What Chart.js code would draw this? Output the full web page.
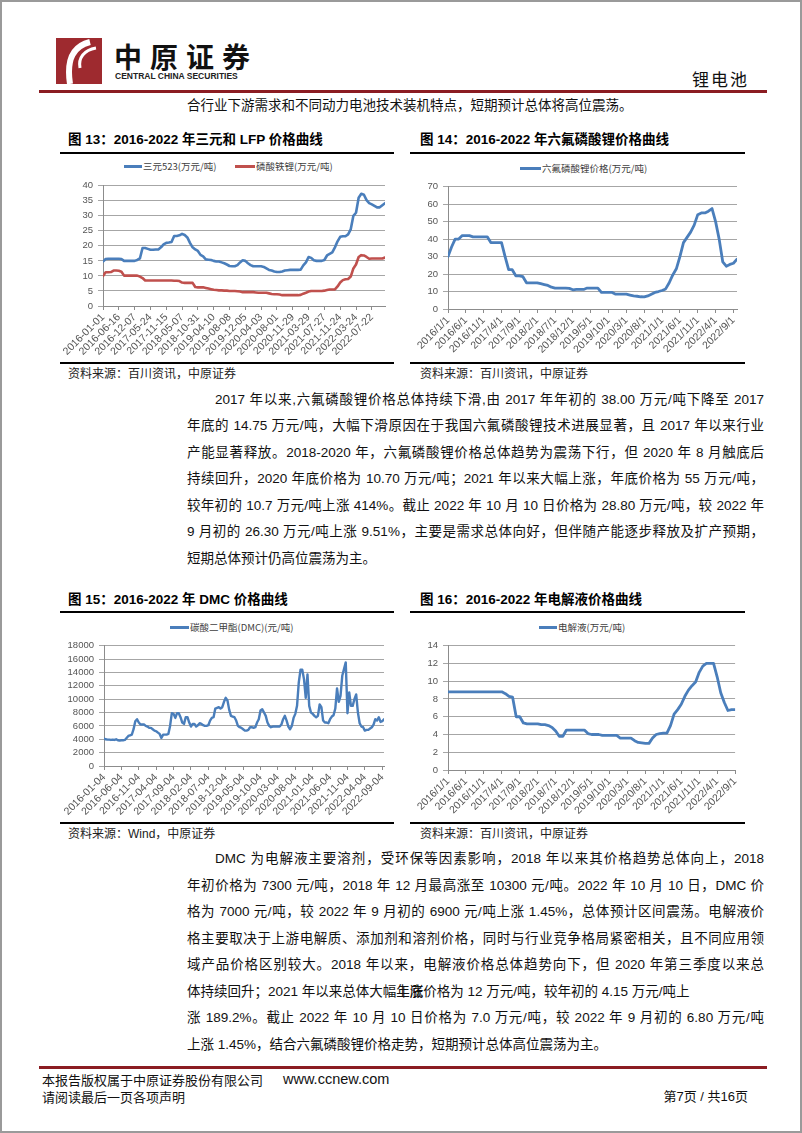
<!DOCTYPE html>
<html><head><meta charset="utf-8">
<script src="https://cdn.jsdelivr.net/npm/chart.js@4.4.0/dist/chart.umd.min.js"></script>
<style>
html,body{margin:0;padding:0;background:#fff;}
#page{position:relative;width:802px;height:1133px;overflow:hidden;box-sizing:border-box;border:2px solid #9a9a9a;font-family:"Liberation Sans","Noto Sans CJK SC",sans-serif;color:#111;}
.abs{position:absolute;white-space:nowrap;}
.ln{position:absolute;left:185px;width:577px;font-size:13.5px;line-height:20px;height:20px;text-align:justify;text-align-last:justify;white-space:normal;overflow:visible;}
.ln.ind{left:213px;width:549px;}
.ln.last{text-align:left;text-align-last:left;white-space:nowrap;}
.title{position:absolute;font-weight:bold;font-size:13.5px;line-height:16px;white-space:nowrap;color:#000;}
.rule{position:absolute;height:2px;background:#000;}
.src{position:absolute;font-size:12px;line-height:14px;white-space:nowrap;color:#222;}
.leg{position:absolute;font-family:"Noto Sans CJK SC","Liberation Sans",sans-serif;font-size:9.5px;line-height:12px;white-space:nowrap;color:#404040;}
.sw{display:inline-block;height:2.5px;vertical-align:middle;margin-right:1px;position:relative;top:-1px;}
canvas{position:absolute;}
</style></head>
<body><div id="page">

<!-- header -->
<svg class="abs" style="left:54px;top:36px" width="46" height="46" viewBox="0 0 46 46">
  <rect x="0" y="0" width="46" height="46" fill="#9e2a2f"/>
  <path d="M34 4 C18 8 10 20 14 46" stroke="#fff" stroke-width="6" fill="none"/>
  <path d="M40 10 C28 12 22 20 24 30" stroke="#fff" stroke-width="3" fill="none"/>
</svg>
<div class="abs" style="left:112px;top:36px;font-family:'Noto Sans CJK SC';font-weight:bold;font-size:28px;line-height:36px;letter-spacing:8px;color:#111;">中原证券</div>
<div class="abs" style="left:113px;top:69px;font-family:'Liberation Sans';font-weight:bold;font-size:8.5px;line-height:10px;color:#222;">CENTRAL CHINA SECURITIES</div>
<div class="abs" style="left:690px;top:66px;font-family:'Noto Sans CJK SC';font-size:17px;line-height:22px;letter-spacing:2px;color:#111;">锂电池</div>
<div class="abs" style="left:37px;top:88px;width:728px;height:2.5px;background:#8b1c22;"></div>
<div class="ln last" style="top:94px;">合行业下游需求和不同动力电池技术装机特点，短期预计总体将高位震荡。</div>

<!-- chart 13 -->
<div class="title" style="left:66px;top:130px;">图 13：2016-2022 年三元和 LFP 价格曲线</div>
<div class="rule" style="left:58px;top:150px;width:334px;"></div>
<div class="leg" style="left:122px;top:158px;"><span class="sw" style="width:18px;background:#4a7ebb"></span>三元523(万元/吨)</div>
<div class="leg" style="left:233px;top:158px;"><span class="sw" style="width:20px;background:#c0504d"></span>磷酸铁锂(万元/吨)</div>
<canvas id="c13" width="335" height="185" style="left:57px;top:173px;"></canvas>
<div class="rule" style="left:58px;top:360px;width:334px;"></div>
<div class="src" style="left:66px;top:365px;">资料来源：百川资讯，中原证券</div>

<!-- chart 14 -->
<div class="title" style="left:418px;top:130px;">图 14：2016-2022 年六氟磷酸锂价格曲线</div>
<div class="rule" style="left:408px;top:150px;width:335px;"></div>
<div class="leg" style="left:518px;top:160px;"><span class="sw" style="width:21px;background:#4a7ebb"></span>六氟磷酸锂价格(万元/吨)</div>
<canvas id="c14" width="335" height="184" style="left:408px;top:174px;"></canvas>
<div class="rule" style="left:408px;top:360px;width:335px;"></div>
<div class="src" style="left:418px;top:365px;">资料来源：百川资讯，中原证券</div>

<!-- paragraph 1 -->
<div class="ln ind" style="top:388px;">2017 年以来,六氟磷酸锂价格总体持续下滑,由 2017 年年初的 38.00 万元/吨下降至 2017</div>
<div class="ln" style="top:414px;">年底的 14.75 万元/吨，大幅下滑原因在于我国六氟磷酸锂技术进展显著，且 2017 年以来行业</div>
<div class="ln" style="top:441px;">产能显著释放。2018-2020 年，六氟磷酸锂价格总体趋势为震荡下行，但 2020 年 8 月触底后</div>
<div class="ln" style="top:467px;">持续回升，2020 年底价格为 10.70 万元/吨；2021 年以来大幅上涨，年底价格为 55 万元/吨，</div>
<div class="ln" style="top:494px;">较年初的 10.7 万元/吨上涨 414%。截止 2022 年 10 月 10 日价格为 28.80 万元/吨，较 2022 年</div>
<div class="ln" style="top:520px;">9 月初的 26.30 万元/吨上涨 9.51%，主要是需求总体向好，但伴随产能逐步释放及扩产预期，</div>
<div class="ln last" style="top:547px;">短期总体预计仍高位震荡为主。</div>

<!-- chart 15 -->
<div class="title" style="left:66px;top:590px;">图 15：2016-2022 年 DMC 价格曲线</div>
<div class="rule" style="left:58px;top:609px;width:334px;"></div>
<div class="leg" style="left:168px;top:619px;"><span class="sw" style="width:19px;background:#4a7ebb"></span>碳酸二甲酯(DMC)(元/吨)</div>
<canvas id="c15" width="335" height="185" style="left:57px;top:633px;"></canvas>
<div class="rule" style="left:58px;top:820px;width:334px;"></div>
<div class="src" style="left:66px;top:825px;">资料来源：Wind，中原证券</div>

<!-- chart 16 -->
<div class="title" style="left:418px;top:590px;">图 16：2016-2022 年电解液价格曲线</div>
<div class="rule" style="left:408px;top:609px;width:335px;"></div>
<div class="leg" style="left:537px;top:619px;"><span class="sw" style="width:18px;background:#4a7ebb"></span>电解液(万元/吨)</div>
<canvas id="c16" width="335" height="185" style="left:408px;top:633px;"></canvas>
<div class="rule" style="left:408px;top:820px;width:335px;"></div>
<div class="src" style="left:418px;top:825px;">资料来源：百川资讯，中原证券</div>

<!-- paragraph 2 -->
<div class="ln ind" style="top:847px;">DMC 为电解液主要溶剂，受环保等因素影响，2018 年以来其价格趋势总体向上，2018</div>
<div class="ln" style="top:874px;">年初价格为 7300 元/吨，2018 年 12 月最高涨至 10300 元/吨。2022 年 10 月 10 日，DMC 价</div>
<div class="ln" style="top:900px;">格为 7000 元/吨，较 2022 年 9 月初的 6900 元/吨上涨 1.45%，总体预计区间震荡。电解液价</div>
<div class="ln" style="top:927px;">格主要取决于上游电解质、添加剂和溶剂价格，同时与行业竞争格局紧密相关，且不同应用领</div>
<div class="ln" style="top:953px;">域产品价格区别较大。2018 年以来，电解液价格总体趋势向下，但 2020 年第三季度以来总</div>
<div class="ln last" style="top:980px;">体持续回升；2021 年以来总体大幅<span style="margin-right:-27px">上涨</span>年底价格为 12 万元/吨，较年初的 4.15 万元/吨上</div>
<div class="ln" style="top:1006px;">涨 189.2%。截止 2022 年 10 月 10 日价格为 7.0 万元/吨，较 2022 年 9 月初的 6.80 万元/吨</div>
<div class="ln last" style="top:1033px;">上涨 1.45%，结合六氟磷酸锂价格走势，短期预计总体高位震荡为主。</div>

<!-- footer -->
<div class="abs" style="left:37px;top:1064px;width:728px;height:2.5px;background:#8b1c22;"></div>
<div class="abs" style="left:40px;top:1070px;font-family:'Noto Sans CJK SC';font-size:13px;line-height:16px;color:#111;">本报告版权属于中原证券股份有限公司</div>
<div class="abs" style="left:281px;top:1069px;font-family:'Liberation Sans';font-size:14.5px;line-height:17px;color:#111;">www.ccnew.com</div>
<div class="abs" style="left:40px;top:1087px;font-family:'Noto Sans CJK SC';font-size:13px;line-height:16px;color:#111;">请阅读最后一页各项声明</div>
<div class="abs" style="right:52px;top:1087px;font-size:13px;line-height:16px;color:#111;">第7页 / 共16页</div>

</div>
<script>
// ---------- data ----------
// Fig 13: ternary 523 and LFP prices (10k yuan/t), 6 samples per axis label
const c13Ticks = ['2016-01-01','2016-06-16','2016-12-07','2017-05-24','2017-11-15','2018-05-07','2018-10-31','2019-04-10','2019-08-08','2019-12-05','2020-04-03','2020-08-01','2020-11-29','2021-03-29','2021-07-27','2021-11-24','2022-03-24','2022-07-22'];
const c13Step = 6;
const ncm523 = [14.8,15.6,15.7,15.7,15.7,15.7,15.7,15.6,15.0,15.0,15.0,15.0,15.0,15.3,15.8,19.3,19.3,19.0,18.7,18.7,18.8,18.8,19.5,20.5,21.0,21.1,21.3,23.3,23.3,23.5,24.0,23.6,22.8,21.0,19.5,18.8,18.3,17.0,16.5,15.5,15.4,15.3,15.0,14.8,14.8,14.5,14.2,13.8,13.3,13.2,13.2,13.6,14.5,15.2,15.0,14.2,13.6,13.2,13.2,13.2,13.2,13.0,12.5,12.0,11.8,11.5,11.3,11.3,11.5,11.8,11.9,12.0,12.0,12.0,12.0,12.1,13.5,14.5,16.3,16.0,15.2,15.0,15.0,15.0,15.3,16.8,17.3,17.8,19.5,21.5,23.0,23.2,23.2,23.8,25.5,30.0,31.0,36.0,37.3,37.0,35.2,34.2,33.8,33.3,32.8,32.8,33.5,34.2];
const lfp = [10.0,11.2,11.2,11.3,11.8,11.8,11.7,11.4,10.1,10.1,10.1,10.1,10.1,10.1,9.8,9.3,8.5,8.5,8.5,8.5,8.5,8.5,8.5,8.5,8.5,8.5,8.5,8.4,8.4,8.3,7.8,7.7,7.7,7.7,7.7,6.3,6.2,6.2,6.2,6.0,5.8,5.6,5.4,5.3,5.2,5.2,5.1,5.1,5.0,5.0,5.0,4.9,4.8,4.6,4.6,4.6,4.6,4.6,4.5,4.4,4.4,4.4,4.4,4.2,4.0,3.9,3.9,3.8,3.6,3.6,3.6,3.6,3.6,3.6,3.6,3.7,4.1,4.4,4.8,5.0,5.0,5.0,5.0,5.0,5.1,5.3,5.5,5.5,5.5,6.5,7.8,8.6,8.9,9.0,9.8,12.5,13.8,16.3,16.9,16.8,16.3,15.7,15.8,15.8,15.8,15.8,15.8,16.1];

// Fig 14: LiPF6 price (10k yuan/t), monthly
const monthTicks = ['2016/1/1','2016/6/1','2016/11/1','2017/4/1','2017/9/1','2018/2/1','2018/7/1','2018/12/1','2019/5/1','2019/10/1','2020/3/1','2020/8/1','2021/1/1','2021/6/1','2021/11/1','2022/4/1','2022/9/1'];
const monthStep = 5;
const lipf6 = [30,35.5,40,40,42,42,42,41.3,41.3,41.3,41.3,41.3,38,38,38,38,30,22.5,22.5,19,19,18.5,15,15,15,15,14.5,14,13.5,12.5,12,12,12,12,11.8,11,11.2,11.2,11.2,12,12,12,12,9.5,9.5,9.5,9.5,8.5,8.5,8.5,8.5,8.0,7.5,7.3,7.0,6.9,7.5,8.5,9.5,10,10.6,11.5,15,19.5,23,30,38,41,44,48,54,55,55,56,57.5,50,40,27,24.5,25.5,26.2,28.5];

// Fig 15: DMC price (yuan/t), half-monthly
const c15Ticks = ['2016-01-04','2016-06-04','2016-11-04','2017-04-04','2017-09-04','2018-02-04','2018-07-04','2018-12-04','2019-05-04','2019-10-04','2020-03-04','2020-08-04','2021-01-04','2021-06-04','2021-11-04','2022-04-04','2022-09-04'];
const c15Step = 10;
const dmc = [4100,4000,3950,3950,3900,3950,3900,4000,3850,3800,
3850,3850,3900,4200,4500,4600,4700,5500,6700,7000,
6500,6200,6200,6200,6000,5900,5700,5700,5500,5300,
5200,5000,4800,4200,4700,4700,4700,4800,6000,7900,
7800,7200,7900,7900,7300,6500,6300,7300,7300,6500,
5900,6300,6300,5900,6100,6400,6300,6100,6000,6000,
6100,6800,7200,7300,8600,8700,8800,8600,8800,9600,
10200,9800,8400,7500,7400,7300,6800,6000,5800,5700,
5500,5300,5300,5400,5800,5800,5700,5800,6500,7000,
8300,8500,8000,7500,6500,6000,5800,5900,5900,5900,
5900,5900,6200,7000,7500,6800,5900,5500,6000,7200,
7800,9000,12500,14400,14400,13000,10200,13700,9000,8000,
7800,7500,7300,7500,9200,8800,6800,6500,6500,6400,
7000,7400,7600,8600,11600,9600,10500,13500,14500,15500,
7900,11000,9000,9000,10000,10700,8000,6400,5900,5800,
5300,5400,5400,5600,5800,6200,7000,6800,7300,6600,
6700,7000];

// Fig 16: electrolyte price (10k yuan/t), monthly
const electrolyte = [8.8,8.8,8.8,8.8,8.8,8.8,8.8,8.8,8.8,8.8,8.8,8.8,8.8,8.8,8.8,8.8,8.6,8.3,8.2,6.0,6.0,5.3,5.2,5.2,5.2,5.2,5.1,5.1,5.0,4.8,4.4,3.8,3.8,4.5,4.5,4.5,4.5,4.5,4.5,4.1,4.0,4.0,4.0,3.9,3.9,3.9,3.9,3.9,3.6,3.6,3.6,3.6,3.3,3.1,3.05,3.0,3.0,3.6,4.0,4.1,4.15,4.15,5.0,6.3,6.8,7.4,8.3,9.0,9.5,9.9,11.0,11.7,12.0,12.0,12.0,10.5,8.7,7.6,6.7,6.8,6.8];

const BLUE = '#4a7ebb', RED = '#c0504d';

function makeChart(id, o) {
  const n = o.series[0].length;
  new Chart(document.getElementById(id), {
    type: 'line',
    data: {
      datasets: o.series.map((arr, k) => ({
        data: arr.map((v, i) => ({x: i, y: v})),
        borderColor: o.colors[k], backgroundColor: o.colors[k],
        borderWidth: o.lw, pointRadius: 0, tension: 0, fill: false,
        borderJoinStyle: 'round', borderCapStyle: 'round'
      }))
    },
    options: {
      responsive: false, animation: false, events: [],
      layout: {padding: {top: 10, right: o.padRight, left: 0, bottom: 0}},
      plugins: {legend: {display: false}, tooltip: {enabled: false}},
      scales: {
        x: {
          type: 'linear', min: 0, max: n - 1,
          afterBuildTicks: s => { s.ticks = o.ticks.map((_, j) => ({value: j * o.step})); },
          afterFit: s => { s.height = o.xH; },
          ticks: {autoSkip: false, minRotation: 45, maxRotation: 45, padding: 1,
            color: '#555', font: {family: 'Liberation Sans', size: 10.5},
            callback: v => o.ticks[Math.round(v / o.step)]},
          grid: {drawOnChartArea: false, drawTicks: true, tickLength: 4, color: '#8c8c8c'},
          border: {display: true, color: '#8c8c8c'}
        },
        y: {
          min: 0, max: o.yMax,
          afterFit: s => { s.width = o.yW; },
          ticks: {stepSize: o.yStep, autoSkip: false, padding: 5, color: '#555',
            font: {family: 'Liberation Sans', size: 9.5}, callback: v => String(v)},
          grid: {color: '#a6a6a6', tickLength: 5, drawTicks: true},
          border: {display: true, color: '#8c8c8c'}
        }
      }
    }
  });
}

makeChart('c13', {series: [ncm523, lfp], colors: [BLUE, RED], lw: 2.6, ticks: c13Ticks, step: c13Step, yMax: 40, yStep: 5, yW: 44, xH: 54, padRight: 9});
makeChart('c14', {series: [lipf6], colors: [BLUE], lw: 2.8, ticks: monthTicks, step: monthStep, yMax: 70, yStep: 10, yW: 38, xH: 51, padRight: 8});
makeChart('c15', {series: [dmc], colors: [BLUE], lw: 2.4, ticks: c15Ticks, step: c15Step, yMax: 18000, yStep: 2000, yW: 45, xH: 54, padRight: 10});
makeChart('c16', {series: [electrolyte], colors: [BLUE], lw: 2.8, ticks: monthTicks, step: monthStep, yMax: 14, yStep: 2, yW: 38, xH: 50, padRight: 9});
</script>
</body></html>
